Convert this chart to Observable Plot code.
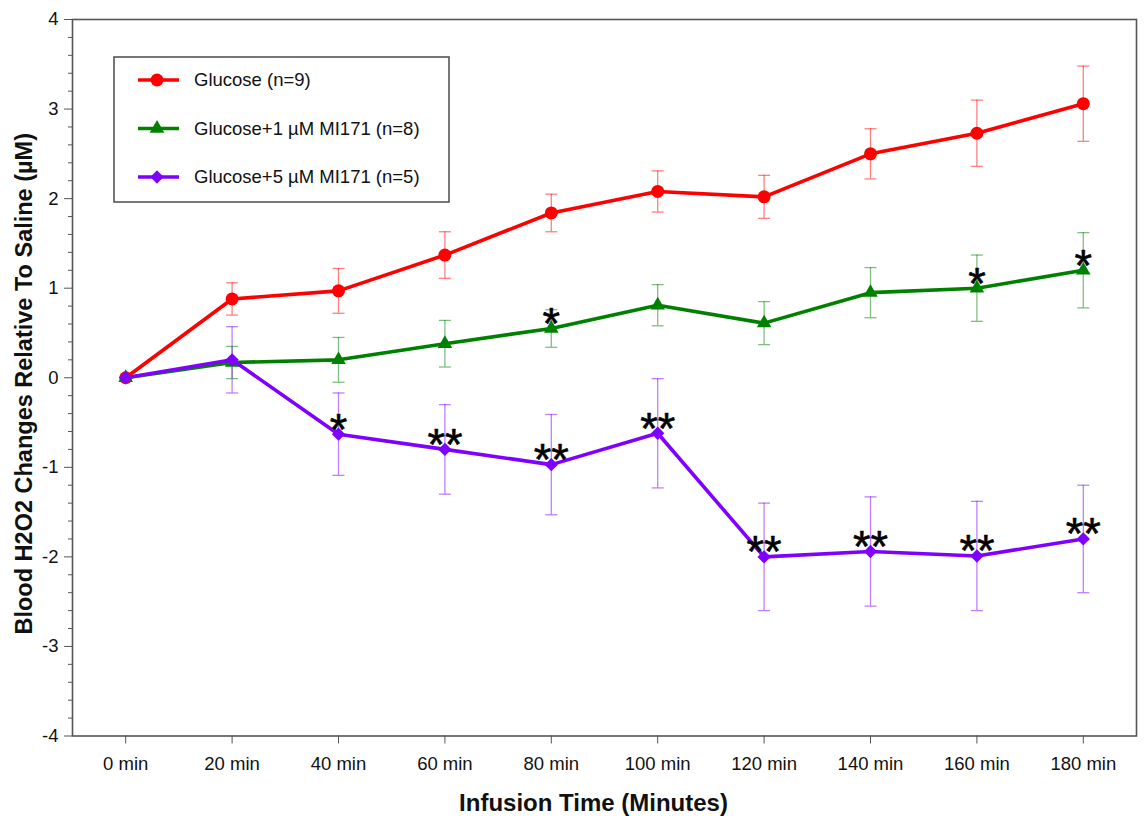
<!DOCTYPE html>
<html><head><meta charset="utf-8">
<script src="https://cdn.jsdelivr.net/npm/d3@7"></script>
<script src="https://cdn.jsdelivr.net/npm/@observablehq/plot@0.6"></script>
<style>
body{margin:0;background:#fff;font-family:"Liberation Sans",Arial,sans-serif}
#wrap{position:relative;width:1148px;height:816px}
#legend{position:absolute;left:113px;top:56px}
</style>
</head><body><div id="wrap"></div>
<script>
// ---- data ----
const times = [0, 20, 40, 60, 80, 100, 120, 140, 160, 180];
const xTicks = [0, 20, 40, 60, 80, 100, 120, 140, 160, 180];
const xTickLabels = ["0 min", "20 min", "40 min", "60 min", "80 min", "100 min", "120 min", "140 min", "160 min", "180 min"];
const yTicks = [-4, -3, -2, -1, 0, 1, 2, 3, 4];

const seriesNames = ["Glucose (n=9)", "Glucose+1 µM MI171 (n=8)", "Glucose+5 µM MI171 (n=5)"];
const glucose    = [0, 0.88, 0.97, 1.37, 1.84, 2.08, 2.02, 2.50, 2.73, 3.06];
const glucoseErr = [0, 0.18, 0.25, 0.26, 0.21, 0.23, 0.24, 0.28, 0.37, 0.42];
const mi1        = [0, 0.17, 0.20, 0.38, 0.55, 0.81, 0.61, 0.95, 1.00, 1.20];
const mi1Err     = [0, 0.18, 0.25, 0.26, 0.21, 0.23, 0.24, 0.28, 0.37, 0.42];
const mi5        = [0, 0.20, -0.63, -0.80, -0.97, -0.62, -2.00, -1.94, -1.99, -1.80];
const mi5Err     = [0, 0.37, 0.46, 0.50, 0.56, 0.61, 0.60, 0.61, 0.61, 0.60];
const glucoseStars = ["", "", "", "", "", "", "", "", "", ""];
const mi1Stars     = ["", "", "", "", "*", "", "", "", "*", "*"];
const mi5Stars     = ["", "", "*", "**", "**", "**", "**", "**", "**", "**"];

// ---- styles ----
const colors = ["#ff0000", "#008000", "#7f00ff"];
const symbols = ["circle", "triangle", "diamond2"];
const radii = [6.5, 5.4, 6];

const allValues = [glucose, mi1, mi5];
const allErr = [glucoseErr, mi1Err, mi5Err];
const allStars = [glucoseStars, mi1Stars, mi5Stars];
const rows = seriesNames.flatMap((name, s) => times.map((t, i) => ({
  series: name, t, v: allValues[s][i], e: allErr[s][i], star: allStars[s][i]
})));
const withErr = rows.filter(d => d.e > 0);

const cap = {draw(ctx, size) { const w = Math.sqrt(size / Math.PI); ctx.moveTo(-w, 0); ctx.lineTo(w, 0); }};

const seriesMarks = seriesNames.flatMap((name, s) => {
  const data = rows.filter(d => d.series === name);
  return [
    Plot.line(data, {x: "t", y: "v", stroke: colors[s], strokeWidth: 3.6}),
    Plot.dot(data, {x: "t", y: "v", fill: colors[s], stroke: "none", symbol: symbols[s], r: radii[s]})
  ];
});

const axisColor = "#555";
const chart = Plot.plot({
  width: 1148, height: 816,
  marginTop: 19, marginBottom: 80.5, marginLeft: 72, marginRight: 12,
  style: {fontFamily: "'Liberation Sans', Arial, sans-serif", background: "white", color: "#111"},
  x: {domain: [-10, 190]},
  y: {domain: [-4, 4]},
  color: {domain: seriesNames, range: colors},
  marks: [
    Plot.ruleX(withErr, {x: "t", y1: d => d.v - d.e, y2: d => d.v + d.e, stroke: "series", strokeWidth: 1.3, strokeOpacity: 0.5}),
    Plot.dot(withErr, {x: "t", y: d => d.v + d.e, symbol: cap, r: 6, fill: "none", stroke: "series", strokeWidth: 1.3, strokeOpacity: 0.5}),
    Plot.dot(withErr, {x: "t", y: d => d.v - d.e, symbol: cap, r: 6, fill: "none", stroke: "series", strokeWidth: 1.3, strokeOpacity: 0.5}),
    ...seriesMarks,
    Plot.text(rows.filter(d => d.star), {x: "t", y: "v", text: "star", fontSize: 45, lineAnchor: "middle", dy: -4, fill: "#000", stroke: "#000", strokeWidth: 0.6}),
    Plot.frame({stroke: axisColor, strokeWidth: 1.6}),
    Plot.axisX({ticks: xTicks, tickFormat: d => xTickLabels[xTicks.indexOf(d)], tickSize: 8, tickPadding: 13, fontSize: 18.5, label: null, stroke: axisColor}),
    Plot.axisY({ticks: yTicks, tickFormat: d => String(d), tickSize: 8, tickPadding: 6, fontSize: 18.5, label: null, stroke: axisColor}),
    Plot.axisY({ticks: d3.range(-40, 41, 2).filter(v => v % 10 !== 0).map(v => v / 10), tickFormat: () => "", tickSize: 4, label: null, stroke: axisColor}),
    Plot.text(["Infusion Time (Minutes)"], {text: d => d, frameAnchor: "bottom", textAnchor: "middle", dx: -11, dy: 67, fontSize: 24, fontWeight: "bold", lineAnchor: "middle"}),
    Plot.text(["Blood H2O2 Changes Relative To Saline (µM)"], {text: d => d, frameAnchor: "left", textAnchor: "middle", rotate: -90, dx: -48, dy: 6, fontSize: 23.5, fontWeight: "bold", lineAnchor: "middle"})
  ]
});
const wrap = document.getElementById("wrap");
wrap.appendChild(chart);

// ---- legend (overlay inside plot area) ----
const lw = 336, lh = 146;
const leg = d3.select(wrap).append("svg").attr("id", "legend").attr("width", lw + 2).attr("height", lh + 2)
  .style("font-family", "'Liberation Sans', Arial, sans-serif");
leg.append("rect").attr("x", 1).attr("y", 1).attr("width", lw - 1).attr("height", lh - 1)
  .attr("fill", "white").attr("stroke", axisColor).attr("stroke-width", 1.6);
seriesNames.forEach((name, s) => {
  const cy = 24 + s * 48.5;
  const g = leg.append("g").attr("transform", `translate(0,${cy})`);
  g.append("line").attr("x1", 25).attr("x2", 66).attr("y1", 0).attr("y2", 0).attr("stroke", colors[s]).attr("stroke-width", 3.6);
  const symType = {circle: d3.symbolCircle, triangle: d3.symbolTriangle, diamond2: d3.symbolDiamond2}[symbols[s]];
  g.append("path").attr("transform", "translate(44,0)").attr("d", d3.symbol(symType, Math.PI * radii[s] * radii[s])()).attr("fill", colors[s]);
  g.append("text").attr("x", 81).attr("y", 0).attr("dy", "0.35em").attr("font-size", 18.5).attr("fill", "#111").text(name);
});
</script>
</body></html>
